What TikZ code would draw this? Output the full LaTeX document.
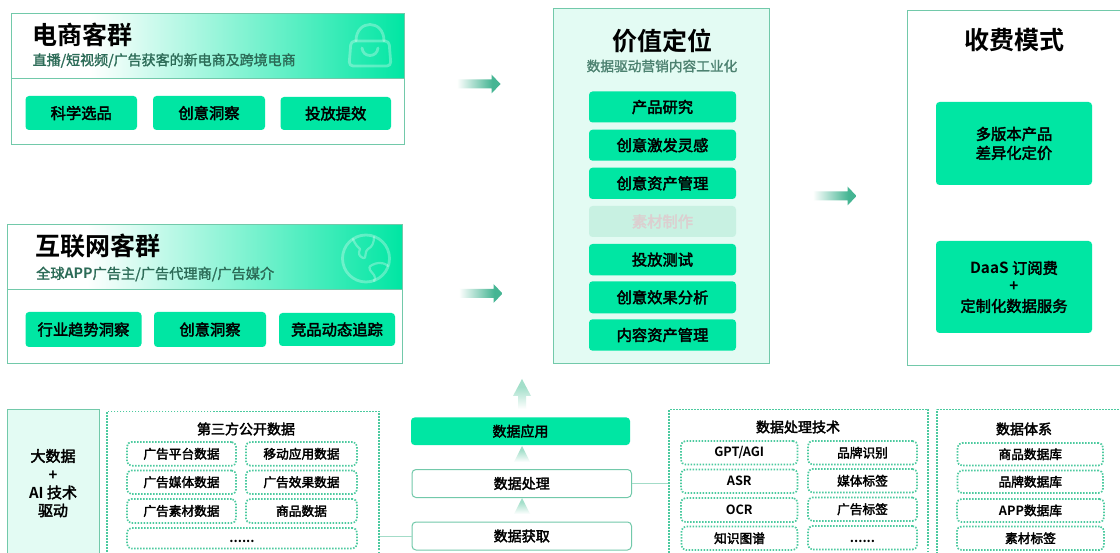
\documentclass[tikz,border=0pt]{standalone}
\usepackage{fontspec}
\setmainfont{Noto Sans CJK SC}[BoldFont={Noto Sans CJK SC Bold}]
\newfontfamily\cjkr{Noto Sans CJK SC}[FakeBold=2.5]
\newfontfamily\cjks{Noto Sans CJK SC}[FakeBold=1.5]
\newfontfamily\cjkb{Noto Sans CJK SC Bold}
\usetikzlibrary{calc}
\definecolor{chipc}{HTML}{00E6A3}
\definecolor{edgec}{HTML}{72C9AA}
\definecolor{paleb}{HTML}{E3FBF3}
\definecolor{dotc}{HTML}{4CCA9F}
\definecolor{subg}{HTML}{2C6B57}
\definecolor{arrc}{HTML}{45B593}
\definecolor{uparr}{HTML}{A3DFCA}
\definecolor{fadechip}{HTML}{C8F1E2}
\definecolor{fadetext}{HTML}{DCCFD0}
\pgfdeclarehorizontalshading{hdrsh}{100bp}{color(0bp)=(white); color(35bp)=(white); color(75bp)=(chipc); color(100bp)=(chipc)}
\pgfdeclarehorizontalshading{arrsh}{100bp}{color(0bp)=(white); color(27bp)=(white); color(66bp)=(arrc); color(100bp)=(arrc)}
\pgfdeclareverticalshading{upsh}{100bp}{color(0bp)=(white); color(25bp)=(white); color(62bp)=(uparr); color(100bp)=(uparr)}
\newcommand{\fs}[2]{\fontsize{#1}{#2}\selectfont}
\newcommand{\lat}[1]{{\cjkb #1}}
\tikzset{
  x=1pt,y=-1pt,
  panel/.style={draw=edgec,line width=1pt,inner sep=0pt,sharp corners},
  palepanel/.style={panel,fill=paleb},
  chip/.style={fill=chipc,draw=none,rounded corners=3.5pt,inner sep=0pt,align=center,text=black,font=\cjkr\fs{15.3}{19}},
  fadedchip/.style={chip,fill=fadechip,text=fadetext},
  outlinechip/.style={draw=edgec,fill=white,line width=1pt,rounded corners=4pt,inner sep=0pt,font=\cjkr\fs{14}{17}},
  dotbox/.style={draw=dotc,line width=1.7pt,dash pattern=on 1.5pt off 1.5pt,inner sep=0pt},
  dotchip/.style={dotbox,rounded corners=4.5pt,font=\cjkr\fs{12.7}{16}},
  bigtitle/.style={inner sep=0pt,font=\cjkb\fs{25}{28}},
  subtitle/.style={inner sep=0pt,text=subg,font=\cjks\fs{14}{17}},
  midtitle/.style={inner sep=0pt,font=\cjkr\fs{14}{17}},
  sidetext/.style={inner sep=0pt,font=\cjkr\fs{15}{18}},
  linkline/.style={draw=edgec!65!white,line width=1pt},
  icon/.style={draw=white,draw opacity=.3,line width=2.8pt,line cap=round,line join=round},
}
% box given by corners: style, name, x1,y1,x2,y2, text
\newcommand{\bx}[7]{\node[#1,anchor=center,minimum width={(#5-#3)*1pt},minimum height={(#6-#4)*1pt}] (#2) at ({(#3+#5)/2},{(#4+#6)/2}) {#7};}
% horizontal fading arrow: x1, x2, y
\newcommand{\harrow}[3]{\shade[shading=arrsh] (#1,#3-4.5) -- (#2-9,#3-4.5) -- (#2-9,#3-9.5) -- (#2,#3) -- (#2-9,#3+9.5) -- (#2-9,#3+4.5) -- (#1,#3+4.5) -- cycle;}
\begin{document}
\begin{tikzpicture}
\clip (0,0) rectangle (1120,553);
\fill[white] (0,0) rectangle (1120,553);

% --- e-commerce
\shade[shading=hdrsh] (11.5,13.5) rectangle (404.5,78.5);
\bx{panel}{ecom}{11.5}{13.5}{404.5}{145}{}
\coordinate (ecomL) at (11.5,78.5);
\coordinate (ecomR) at (404.5,78.5);
\draw[panel] (ecomL) -- (ecomR);
\node[bigtitle,anchor=west] (ecomT) at (32,35) {电商客群};
\node[subtitle,anchor=west] (ecomS) at (32.5,60.5) {直播/短视频/广告获客的新电商及跨境电商};
\draw[icon,rounded corners=4pt] (351,41) -- (389,41) -- (391,66) -- (349,66) -- cycle;
\draw[icon] (356,41) .. controls (356,19) and (384,19) .. (384,41);
\draw[icon] (362,48) .. controls (363,58) and (377,58) .. (378,48);
\bx{chip}{e1}{25.5}{96}{137}{130}{科学选品}
\bx{chip}{e2}{153}{96}{265}{130}{创意洞察}
\bx{chip}{e3}{280.5}{97}{391}{130}{投放提效}

% --- internet
\shade[shading=hdrsh] (7.5,224.5) rectangle (402,289.5);
\bx{panel}{inet}{7.5}{224.5}{402}{363.5}{}
\coordinate (inetL) at (7.5,289.5);
\coordinate (inetR) at (402,289.5);
\draw[panel] (inetL) -- (inetR);
\node[bigtitle,anchor=west] (inetT) at (35,246) {互联网客群};
\node[subtitle,anchor=west,font=\cjks\fs{14.2}{17}] (inetS) at (36,274) {全球\lat{APP}广告主/广告代理商/广告媒介};
\draw[icon] (366,258.5) circle (23.5);
\draw[icon,line width=2.2pt] (353,239) .. controls (356,246) and (358,247) .. (360,249) .. controls (358,254) and (359,256) .. (363,258) .. controls (367,260) and (364,251) .. (368,249) .. controls (372,247) and (374,243) .. (374,237);
\draw[icon,line width=2.2pt] (388,266) .. controls (382,261) and (376,263) .. (372,265) .. controls (366,268) and (372,272) .. (374,275) .. controls (376,277) and (375,279) .. (374,281);
\bx{chip}{i1}{25.5}{312}{141.5}{347}{行业趋势洞察}
\bx{chip}{i2}{154}{312}{266}{347}{创意洞察}
\bx{chip}{i3}{279}{313}{395}{346}{竞品动态追踪}

\harrow{455}{500.5}{84}
\harrow{457}{502.5}{293.5}
\harrow{811}{856.5}{196}

% --- value proposition
\bx{palepanel}{value}{553.5}{8.5}{769.5}{363.5}{}
\node[bigtitle] (valueT) at (662,41) {价值定位};
\node[subtitle,text=subg!85!white,font=\cjks\fs{13.7}{17}] (valueS) at (662,66) {数据驱动营销内容工业化};
\bx{chip}{v1}{589}{91.5}{736}{122.5}{产品研究}
\bx{chip}{v2}{589}{129.7}{736}{160.7}{创意激发灵感}
\bx{chip}{v3}{589}{167.7}{736}{199}{创意资产管理}
\bx{fadedchip}{v4}{589}{206}{736}{237}{素材制作}
\bx{chip}{v5}{589}{244}{736}{275.3}{投放测试}
\bx{chip}{v6}{589}{281.3}{736}{313.3}{创意效果分析}
\bx{chip}{v7}{589}{319.3}{736}{350.7}{内容资产管理}

% --- fee model
\bx{panel}{fee}{907}{10.5}{1140}{365.5}{}
\node[bigtitle] (feeT) at (1014,40) {收费模式};
\bx{chip}{f1}{936}{102}{1092}{185}{多版本产品\\差异化定价}
\bx{chip}{f2}{936}{241}{1092}{333}{\raisebox{-1pt}{\lat{DaaS} 订阅费}\\\lat{+}\\\raisebox{-1pt}{定制化数据服务}}

% --- big data column
\bx{palepanel}{bigd}{7.5}{409.5}{99.5}{575}{}
\node[sidetext] (b1) at (53,456) {大数据};
\node[sidetext] (b2) at (53,475.5) {\lat{+}};
\node[sidetext] (b3) at (53,492.5) {\lat{AI} 技术};
\node[sidetext] (b4) at (53,510.5) {驱动};

% --- third party data
\bx{dotbox}{third}{107}{411.5}{379}{575}{}
\node[midtitle] (thirdT) at (246,429) {第三方公开数据};
\bx{dotchip}{t1}{127}{442}{236}{465.7}{广告平台数据}
\bx{dotchip}{t2}{246}{442}{357}{465.7}{移动应用数据}
\bx{dotchip}{t3}{127}{470.5}{236}{494}{广告媒体数据}
\bx{dotchip}{t4}{246}{470.5}{357}{494}{广告效果数据}
\bx{dotchip}{t5}{127}{499}{236}{523}{广告素材数据}
\bx{dotchip}{t6}{246}{499}{357}{523}{商品数据}
\bx{dotchip}{t7}{127}{528}{357}{548.5}{}
\node[inner sep=0pt,font=\cjkb\fs{13}{16}] (t7t) at (242,541) {......};

% --- data pipeline
\bx{chip}{app}{411}{417.5}{630}{445}{\fs{14}{17}\raisebox{.8pt}{数据应用}}
\bx{outlinechip}{proc}{412}{469.5}{631.5}{497.5}{\raisebox{.8pt}{数据处理}}
\bx{outlinechip}{get}{412}{522}{631.5}{550}{\raisebox{.8pt}{数据获取}}
\shade[shading=upsh,shading angle=0] (518,409) -- (518,396) -- (513,396) -- (522,379) -- (531,396) -- (526,396) -- (526,409) -- cycle;
\shade[shading=upsh,shading angle=0] (514,462) -- (522,446) -- (530,462) -- cycle;
\shade[shading=upsh,shading angle=0] (514,514) -- (522,498) -- (530,514) -- cycle;

% --- processing technology
\bx{dotbox}{tech}{669}{409.5}{928}{575}{}
\node[midtitle] (techT) at (798,427) {数据处理技术};
\bx{dotchip}{p1}{681}{441}{797.5}{464.5}{\lat{GPT/AGI}}
\bx{dotchip}{p2}{808}{441}{917}{464.5}{品牌识别}
\bx{dotchip}{p3}{681}{469.5}{797.5}{493}{\lat{ASR}}
\bx{dotchip}{p4}{808}{469}{917}{492.5}{媒体标签}
\bx{dotchip}{p5}{681}{498}{797.5}{522}{\lat{OCR}}
\bx{dotchip}{p6}{808}{497.5}{917}{521}{广告标签}
\bx{dotchip}{p7}{681.5}{526.5}{797.5}{550}{知识图谱}
\bx{dotchip}{p8}{808}{526}{917}{549.5}{}
\node[inner sep=0pt,font=\cjkb\fs{13}{16}] (p8t) at (862.5,541) {......};

% --- data system
\bx{dotbox}{sys}{937}{409.5}{1140}{575}{}
\node[midtitle] (sysT) at (1024,429) {数据体系};
\bx{dotchip}{s1}{957.5}{443}{1103}{465.5}{商品数据库}
\bx{dotchip}{s2}{957.5}{470.5}{1103}{493}{品牌数据库}
\bx{dotchip}{s3}{957}{499}{1104}{522}{\lat{APP}数据库}
\bx{dotchip}{s4}{957}{526.5}{1104}{550}{素材标签}

% --- connectors
\draw[linkline] (third.east |- get.west) -- (get.west);
\draw[linkline] (proc.east) -- (tech.west |- proc.east);
\end{tikzpicture}
\end{document}
